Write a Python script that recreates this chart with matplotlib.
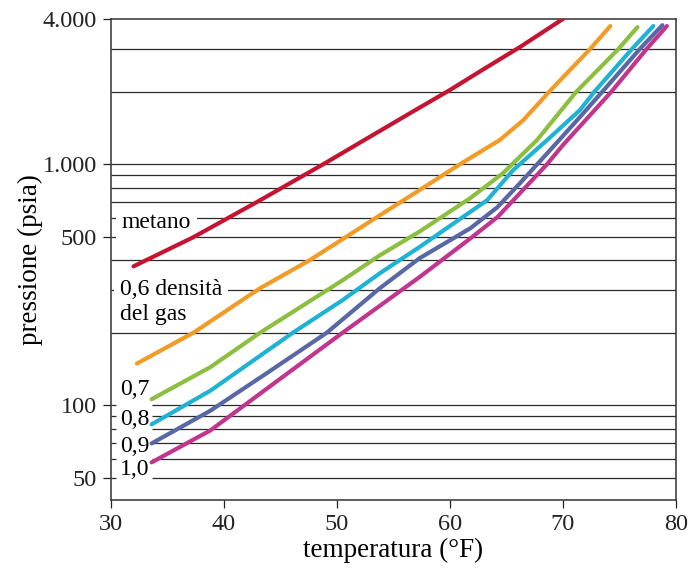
import matplotlib
matplotlib.use('agg')
import matplotlib.pyplot as plt

plt.rcParams['font.family'] = ['Liberation Serif', 'DejaVu Serif']

# curve data: temperatura (F) vs pressione (psia)
metano_t = [32.0, 37.3, 43.0, 48.8, 52.5, 56.5, 60.0, 63.0, 66.2, 70.0]
metano_p = [377, 498, 700, 1000, 1265, 1630, 2030, 2480, 3060, 4000]

d06_t = [32.3, 37.3, 43.2, 47.6, 53.8, 57.3, 60.9, 64.4, 66.5, 68.8, 72.4, 74.2]
d06_p = [149, 200, 306, 400, 614, 780, 1000, 1258, 1523, 2000, 3000, 3740]

d07_t = [33.6, 38.8, 43.2, 50.5, 53.8, 57.3, 61.8, 64.7, 67.7, 71.2, 74.9, 76.6]
d07_p = [106, 144, 200, 330, 419, 525, 723, 918, 1258, 2000, 3000, 3700]

d08_t = [33.6, 38.8, 46.1, 50.5, 53.8, 57.3, 63.3, 65.6, 68.6, 71.5, 72.8, 76.1, 78.0]
d08_p = [83.4, 115, 200, 273, 353, 453, 709, 945, 1258, 1675, 2000, 3000, 3740]

d09_t = [33.6, 38.8, 44.0, 49.1, 53.8, 57.3, 61.8, 64.2, 66.2, 69.1, 71.5, 73.5, 76.8, 78.8]
d09_p = [69.5, 95, 138, 200, 306, 407, 542, 663, 834, 1176, 1567, 2000, 3000, 3770]

d10_t = [33.6, 38.8, 44.7, 50.5, 57.3, 62.0, 64.2, 66.2, 68.6, 70.0, 74.3, 77.4, 79.2]
d10_p = [58, 78.7, 126, 200, 340, 500, 603, 758, 1000, 1200, 2000, 3000, 3740]

y_ticks = [50, 100, 500, 1000, 4000]
y_tick_labels = ['50', '100', '500', '1.000', '4.000']
x_ticks = [30, 40, 50, 60, 70, 80]
grid_full = [200, 300, 400, 500, 600, 700, 800, 900, 1000, 2000, 3000]
grid_low = [50, 60, 70, 80, 90, 100]

fig = plt.figure(figsize=(6.89, 5.70), dpi=100)
ax = fig.add_axes([0.161, 0.1228, 0.820, 0.8439])
ax.set_yscale('log')
ax.set_xlim(30, 80)
ax.set_ylim(40.5, 4000)

grid_kw = dict(colors='#2a2a2a', lw=0.9, zorder=1)
ax.hlines(grid_full, 30, 80, **grid_kw)
# low lines are broken where the density labels sit
ax.hlines(grid_low, 30, 30.45, **grid_kw)
ax.hlines(grid_low, 33.6, 80, **grid_kw)

my_lw = 3
ax.plot(metano_t, metano_p, color='#c41432', lw=my_lw, zorder=3, solid_capstyle='round')
ax.plot(d06_t, d06_p, color='#f29b26', lw=my_lw, zorder=3, solid_capstyle='round')
ax.plot(d07_t, d07_p, color='#8cbf3f', lw=my_lw, zorder=3, solid_capstyle='round')
ax.plot(d08_t, d08_p, color='#1fb2d5', lw=my_lw, zorder=3, solid_capstyle='round')
ax.plot(d09_t, d09_p, color='#5867a5', lw=my_lw, zorder=3, solid_capstyle='round')
ax.plot(d10_t, d10_p, color='#c2358f', lw=my_lw, zorder=3, solid_capstyle='round')

lab_fs = 17
white = dict(facecolor='white', edgecolor='none', pad=4)
ax.text(30.95, 542, 'metano', fontsize=lab_fs, va='baseline', bbox=white, zorder=2)
ax.text(30.8, 286, '0,6 densità', fontsize=lab_fs, va='baseline', bbox=white, zorder=2)
ax.text(30.8, 225, 'del gas', fontsize=lab_fs, va='baseline', zorder=2)
ax.text(30.85, 110, '0,7', fontsize=lab_fs, va='baseline', zorder=2)
ax.text(30.8, 82.6, '0,8', fontsize=lab_fs, va='baseline', zorder=2)
ax.text(30.8, 63.8, '0,9', fontsize=lab_fs, va='baseline', zorder=2)
ax.text(30.8, 51.3, '1,0', fontsize=lab_fs, va='baseline', zorder=2)

ax.set_yticks(y_ticks)
ax.set_yticklabels(y_tick_labels)
ax.yaxis.set_minor_locator(matplotlib.ticker.NullLocator())
ax.set_xticks(x_ticks)
ax.tick_params(direction='out', length=6, width=0.9, colors='#222', labelsize=17.5,
               pad=4, top=False, right=False)

for s in ax.spines.values():
    s.set_color('#333')
    s.set_linewidth(1.1)

ax.set_xlabel('temperatura (°F)', fontsize=19.5, labelpad=2)
ax.set_ylabel('pressione (psia)', fontsize=19.5, labelpad=0)

fig.savefig('out.png', dpi=100)
